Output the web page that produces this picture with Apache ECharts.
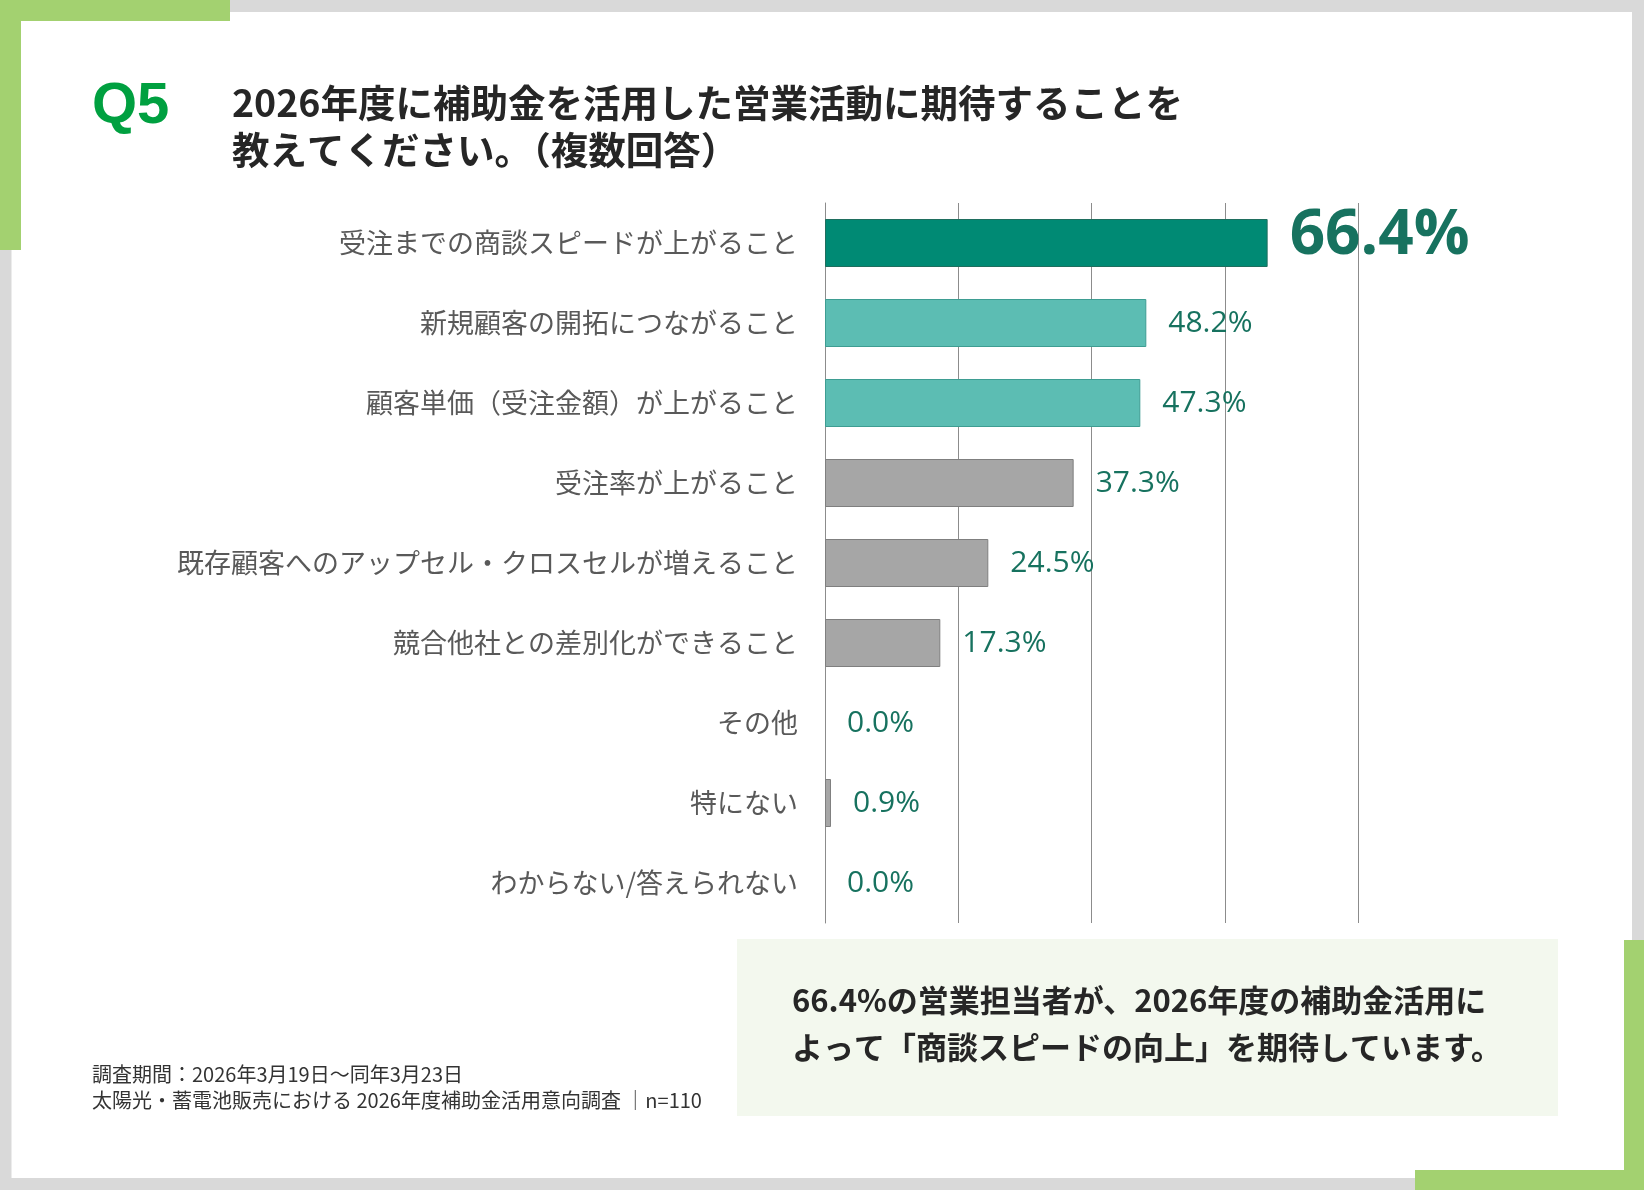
<!DOCTYPE html>
<html>
<head>
<meta charset="utf-8">
<script src="https://cdn.jsdelivr.net/npm/echarts@6/dist/echarts.min.js"></script>
<style>
html,body{margin:0;padding:0;background:#D9D9D9;}
#chart{width:1644px;height:1190px;}
</style>
</head>
<body>
<div id="chart"></div>
<script>
// ---- data ----
const categories = [
  '受注までの商談スピードが上がること',
  '新規顧客の開拓につながること',
  '顧客単価（受注金額）が上がること',
  '受注率が上がること',
  '既存顧客へのアップセル・クロスセルが増えること',
  '競合他社との差別化ができること',
  'その他',
  '特にない',
  'わからない/答えられない'
];
const values = [66.4, 48.2, 47.3, 37.3, 24.5, 17.3, 0.0, 0.9, 0.0];
const axisTicks = [0, 20, 40, 60, 80];
const titleLines = ['2026年度に補助金を活用した営業活動に期待することを', '教えてください。（複数回答）'];
const questionNo = 'Q5';
const summaryLines = ['66.4%の営業担当者が、2026年度の補助金活用に', 'よって「商談スピードの向上」を期待しています。'];
const footerLines = ['調査期間：2026年3月19日～同年3月23日', '太陽光・蓄電池販売における 2026年度補助金活用意向調査 │n=110'];

// ---- styles ----
const DARK = {color:'#008A74', border:'#1F6E5E'};
const LIGHT = {color:'#5CBDB3', border:'#3E9D92'};
const GRAY = {color:'#A6A6A6', border:'#7F7F7F'};
const GREEN = '#A3D170';
const LABEL_GREEN = '#17725F';
const cjk = '"Noto Sans CJK JP", "Noto Sans", sans-serif';

function styleFor(i){ return i === 0 ? DARK : (i <= 2 ? LIGHT : GRAY); }

const seriesData = values.map((v, i) => {
  const s = styleFor(i);
  const item = {
    value: v,
    itemStyle: {color: s.color, borderColor: s.border, borderWidth: v > 0 ? 1 : 0}
  };
  if (i === 0) {
    item.label = {fontSize: 62, fontWeight: 'bold', offset: [0, -7]};
  }
  return item;
});

const chart = echarts.init(document.getElementById('chart'), null, {renderer: 'canvas'});
chart.setOption({
  animation: false,
  backgroundColor: '#D9D9D9',
  grid: {left: 825, top: 203, width: 533.3, height: 720, containLabel: false},
  xAxis: {
    type: 'value', min: axisTicks[0], max: axisTicks[axisTicks.length - 1],
    interval: axisTicks[1] - axisTicks[0],
    axisLabel: {show: false}, axisTick: {show: false}, axisLine: {show: false},
    splitLine: {show: true, lineStyle: {color: '#8C8C8C', width: 1}}
  },
  yAxis: {
    type: 'category', data: categories, inverse: true,
    axisTick: {show: false},
    axisLine: {show: true, lineStyle: {color: '#8C8C8C', width: 1}},
    axisLabel: {color: '#595959', fontSize: 27, fontFamily: cjk, margin: 27}
  },
  series: [{
    type: 'bar',
    data: seriesData,
    barWidth: 48,
    z: 3,
    label: {
      show: true, position: 'right', distance: 22,
      color: LABEL_GREEN, fontSize: 30, fontFamily: '"Open Sans", "Noto Sans", sans-serif',
      formatter: p => p.value.toFixed(1) + '%'
    }
  }],
  graphic: [
    // white card
    {type: 'rect', z: -100, silent: true, shape: {x: 11.5, y: 12, width: 1620.5, height: 1166}, style: {fill: '#FFFFFF'}},
    // green corners
    {type: 'rect', z: -90, silent: true, shape: {x: 0, y: 0, width: 230, height: 21}, style: {fill: GREEN}},
    {type: 'rect', z: -90, silent: true, shape: {x: 0, y: 0, width: 21, height: 250}, style: {fill: GREEN}},
    {type: 'rect', z: -90, silent: true, shape: {x: 1624, y: 940, width: 20, height: 250}, style: {fill: GREEN}},
    {type: 'rect', z: -90, silent: true, shape: {x: 1415, y: 1170, width: 229, height: 20}, style: {fill: GREEN}},
    // summary box
    {type: 'rect', z: -80, silent: true, shape: {x: 737, y: 939, width: 821, height: 177}, style: {fill: '#F3F8EE'}},
    {type: 'text', left: 792, top: 985, style: {text: summaryLines[0], font: 'bold 31px ' + cjk, fill: '#262626'}},
    {type: 'text', left: 792, top: 1032, style: {text: summaryLines[1], font: 'bold 31px ' + cjk, fill: '#262626'}},
    // title
    {type: 'text', left: 92, top: 78, style: {text: questionNo, font: 'bold 58px "Liberation Sans", Arial, sans-serif', fill: '#00A040'}},
    {type: 'text', left: 232, top: 84, style: {text: titleLines[0], font: 'bold 37.5px ' + cjk, fill: '#262626'}},
    {type: 'text', left: 232, top: 131, style: {text: titleLines[1], font: 'bold 37.5px ' + cjk, fill: '#262626'}},
    // footer
    {type: 'text', left: 92, top: 1064, style: {text: footerLines[0], font: '20px ' + cjk, fill: '#333333'}},
    {type: 'text', left: 92, top: 1090, style: {text: footerLines[1], font: '20px ' + cjk, fill: '#333333'}}
  ]
});
</script>
</body>
</html>
